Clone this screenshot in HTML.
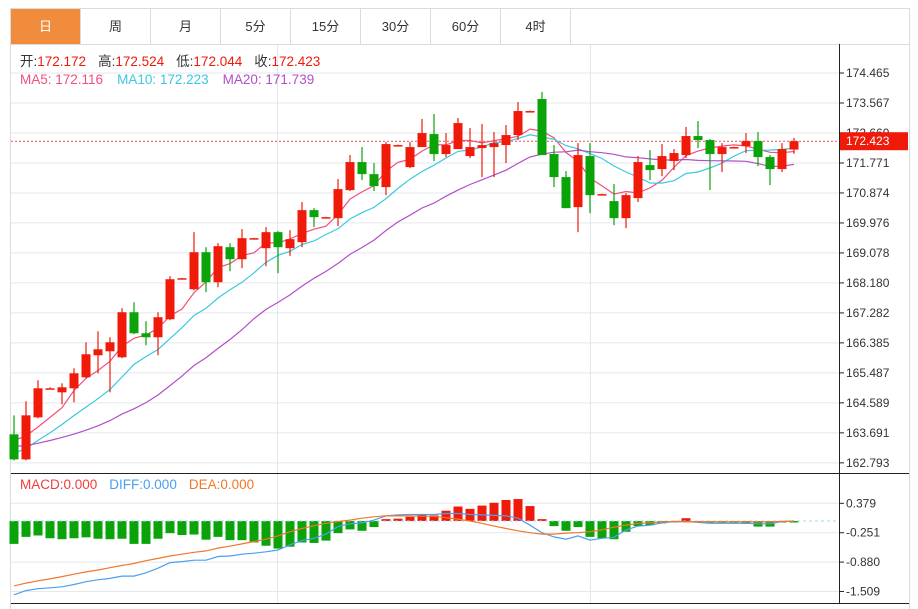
<!DOCTYPE html>
<html><head><meta charset="utf-8">
<style>
html,body{margin:0;padding:0;background:#fff;width:918px;height:604px;overflow:hidden;font-family:"Liberation Sans","Noto Sans CJK SC",sans-serif;}
#wrap{position:absolute;left:10px;top:8px;width:898px;height:600px;border:1px solid #dcdcdc;border-bottom:none;}
.tab{position:absolute;top:0;height:35px;width:69px;border-right:1px solid #dcdcdc;border-bottom:1px solid #dcdcdc;text-align:center;line-height:35px;font-size:13px;color:#333;cursor:pointer;}
.tab.on{background:#f08c3c;color:#fff;}
#tabfill{position:absolute;top:0;left:560px;right:0;height:35px;border-bottom:1px solid #dcdcdc;}
svg{position:absolute;left:0;top:0;}
</style></head><body>
<div id="wrap">
<div class="tab on" style="left:0">日</div>
<div class="tab" style="left:70px">周</div>
<div class="tab" style="left:140px">月</div>
<div class="tab" style="left:210px">5分</div>
<div class="tab" style="left:280px">15分</div>
<div class="tab" style="left:350px">30分</div>
<div class="tab" style="left:420px">60分</div>
<div class="tab" style="left:490px">4时</div>
<div id="tabfill"></div>
</div>
<svg id="chart" width="918" height="604" xmlns="http://www.w3.org/2000/svg"></svg>
<script>
const opens=[163.646,162.897,164.155,165.025,164.905,165.025,165.354,166.014,166.133,165.954,167.302,166.673,166.553,167.093,168.321,167.991,169.100,168.201,169.250,168.890,169.520,169.220,169.700,169.220,169.400,170.359,170.149,170.119,170.959,171.798,171.438,171.049,172.307,171.648,172.247,172.637,172.038,172.187,171.978,172.217,172.247,172.307,172.607,173.326,173.686,172.038,171.348,170.449,171.978,170.839,170.629,170.119,170.719,171.708,171.588,171.828,172.008,172.577,172.457,172.038,172.247,172.277,172.427,171.948,171.588,172.172];
const closes=[162.897,164.215,165.025,165.025,165.055,165.474,166.044,166.193,166.403,167.302,166.673,166.553,167.153,168.291,168.321,169.100,168.201,169.280,168.890,169.520,169.520,169.700,169.250,169.490,170.359,170.149,170.149,170.989,171.798,171.438,171.078,172.337,172.307,172.247,172.667,172.038,172.307,172.966,172.247,172.307,172.367,172.607,173.326,173.326,172.008,171.348,170.419,172.008,170.809,170.839,170.119,170.809,171.798,171.558,171.978,172.068,172.577,172.457,172.038,172.247,172.247,172.427,171.948,171.588,172.187,172.423];
const highs=[164.215,164.635,165.264,165.055,165.175,165.624,166.403,166.733,166.553,167.422,167.602,167.033,167.302,168.381,168.330,169.700,169.250,169.370,169.370,169.790,169.530,169.850,169.730,169.760,170.599,170.419,170.160,171.288,172.008,172.247,171.768,172.397,172.320,172.397,173.087,173.237,172.667,173.117,172.817,172.937,172.697,172.907,173.596,173.340,173.896,172.307,171.528,172.367,172.367,170.850,171.138,170.869,171.978,172.158,172.337,172.188,172.847,173.027,172.487,172.367,172.260,172.667,172.697,172.008,172.367,172.524];
const lows=[162.867,162.867,164.125,164.995,164.545,164.605,165.324,165.474,164.905,165.924,166.643,166.313,166.014,167.063,168.310,167.961,167.902,168.052,168.531,168.621,169.510,168.681,168.471,168.991,169.250,169.850,170.140,169.880,170.929,171.258,170.929,170.809,172.290,171.618,172.247,171.828,171.948,172.187,171.918,171.348,171.348,171.768,172.457,173.310,172.008,171.049,170.419,169.700,170.269,170.830,169.910,169.820,170.599,171.258,171.378,171.558,171.918,172.217,170.959,171.498,172.235,172.068,171.678,171.109,171.498,172.044];
const prevCloses=[163.8,163.6,163.4,163.2,163.5,163.7,163.6,163.3,163.4,163.5,162.8,162.6,162.7,162.6,162.8,163.5,163.7,163.6,163.6];
const priceTicks=[174.465,173.567,172.669,171.771,170.874,169.976,169.078,168.180,167.282,166.385,165.487,164.589,163.691,162.793];
const maLegendValues=[172.116,172.223,171.739];
const diffs=[-1.58,-1.49,-1.45,-1.43,-1.41,-1.36,-1.30,-1.26,-1.23,-1.18,-1.18,-1.11,-1.01,-0.89,-0.87,-0.84,-0.84,-0.76,-0.75,-0.71,-0.69,-0.66,-0.62,-0.51,-0.42,-0.37,-0.28,-0.12,-0.06,-0.04,0.02,0.11,0.13,0.14,0.14,0.14,0.16,0.16,0.14,0.13,0.12,0.11,0.06,-0.09,-0.25,-0.34,-0.39,-0.32,-0.41,-0.37,-0.35,-0.19,-0.11,-0.09,-0.04,-0.01,-0.01,-0.03,-0.05,-0.05,-0.05,-0.05,-0.06,-0.06,-0.01,0.00];
const deas=[-1.39,-1.33,-1.28,-1.24,-1.19,-1.14,-1.09,-1.05,-1.00,-0.95,-0.91,-0.85,-0.80,-0.75,-0.71,-0.67,-0.64,-0.58,-0.54,-0.49,-0.44,-0.39,-0.32,-0.23,-0.16,-0.10,-0.05,-0.01,0.02,0.06,0.09,0.11,0.11,0.11,0.10,0.10,0.07,0.04,0.00,-0.05,-0.11,-0.16,-0.21,-0.25,-0.28,-0.28,-0.26,-0.25,-0.23,-0.19,-0.13,-0.09,-0.05,-0.04,-0.02,-0.01,-0.02,-0.02,-0.02,-0.02,-0.02,-0.02,-0.02,-0.02,-0.01,0.00];
const macds=[-0.49,-0.34,-0.31,-0.37,-0.39,-0.37,-0.35,-0.38,-0.39,-0.38,-0.49,-0.49,-0.38,-0.26,-0.30,-0.29,-0.40,-0.34,-0.41,-0.41,-0.46,-0.53,-0.59,-0.55,-0.46,-0.47,-0.42,-0.26,-0.18,-0.21,-0.13,0.04,0.05,0.09,0.14,0.12,0.22,0.31,0.26,0.33,0.39,0.45,0.47,0.32,0.04,-0.11,-0.21,-0.13,-0.34,-0.37,-0.39,-0.23,-0.11,-0.09,-0.05,-0.02,0.06,0.00,-0.04,-0.04,-0.04,-0.06,-0.12,-0.12,-0.03,-0.01];
const macdTicks=[0.379,-0.251,-0.880,-1.509];

const NS="http://www.w3.org/2000/svg";
const svg=document.getElementById('chart');
const RED='#f01a0a',GREEN='#0aa30a';
function el(tag,attrs,parent){const e=document.createElementNS(NS,tag);for(const k in attrs)e.setAttribute(k,attrs[k]);(parent||svg).appendChild(e);return e;}
const yP=v=>73+(174.465-v)*33.40;
const yM=v=>521-v*46.7;
const xC=i=>14+12*i;
const PL=11,PR=839;

priceTicks.forEach(t=>{const l=el('line',{x1:PL,x2:PR,y1:yP(t),y2:yP(t),stroke:'#e3e8ee','stroke-width':1});

});
macdTicks.forEach(t=>{const l=el('line',{x1:PL,x2:PR,y1:yM(t),y2:yM(t),stroke:'#e3e8ee','stroke-width':1});

});
[277.5,590.5].forEach(x=>{const l=el('line',{x1:x,x2:x,y1:45,y2:603,stroke:'#e3e8ee','stroke-width':1});

});

const cur=closes[closes.length-1];
const cl=el('line',{x1:PL,x2:PR,y1:yP(cur),y2:yP(cur),stroke:'#f05050','stroke-width':1,'stroke-dasharray':'2,2'});



function ma(n){const all=prevCloses.concat(closes);const off=prevCloses.length;return closes.map((c,i)=>{let s=0;for(let k=0;k<n;k++)s+=all[off+i-k];return s/n;});}
[[5,'#f0507a','ma5-line'],[10,'#3cc8e0','ma10-line'],[20,'#b050c8','ma20-line']].forEach(([n,c,name])=>{
 const v=ma(n);const p=el('polyline',{points:v.map((y,i)=>xC(i)+','+yP(y).toFixed(1)).join(' '),fill:'none',stroke:c,'stroke-width':1.2});
 
 
});

closes.forEach((c,i)=>{
 const o=opens[i],up=c>=o,col=up?RED:GREEN;const x=xC(i);
 const g=el('g',{});
 
 
 el('line',{x1:x,x2:x,y1:yP(highs[i]),y2:yP(lows[i]),stroke:col,'stroke-width':1.2},g);
 const top=yP(Math.max(o,c)),bot=yP(Math.min(o,c));
 el('rect',{x:x-4.5,y:top,width:9,height:Math.max(1.5,bot-top),fill:col},g);
});

macds.forEach((m,i)=>{const y0=yM(0),y1=yM(m);
 const r=el('rect',{x:xC(i)-4.5,y:Math.min(y0,y1),width:9,height:Math.max(1.5,Math.abs(y1-y0)),fill:m>=0?RED:GREEN});
 
 
});
const zl=el('line',{x1:PL,x2:PR,y1:yM(0),y2:yM(0),stroke:'#a8d4ec','stroke-width':1,'stroke-dasharray':'3,3'});


const dl=el('polyline',{points:diffs.map((v,i)=>xC(i)+','+yM(v).toFixed(1)).join(' '),fill:'none',stroke:'#4aa0f0','stroke-width':1.2});


const el2=el('polyline',{points:deas.map((v,i)=>xC(i)+','+yM(v).toFixed(1)).join(' '),fill:'none',stroke:'#f07828','stroke-width':1.2});



const ax=el('line',{x1:839.5,x2:839.5,y1:44,y2:604,stroke:'#222','stroke-width':1});


const sep=el('line',{x1:11,x2:909,y1:473.5,y2:473.5,stroke:'#222','stroke-width':1});


const bl=el('line',{x1:11,x2:909,y1:603.5,y2:603.5,stroke:'#222','stroke-width':1});



priceTicks.forEach(t=>{const y=yP(t);el('line',{x1:839,x2:844,y1:y,y2:y,stroke:'#222'});
 const tx=el('text',{x:846,y:y+4,'font-size':12,fill:'#333'});tx.textContent=t.toFixed(3);
 
 });
macdTicks.forEach(t=>{const y=yM(t);el('line',{x1:839,x2:844,y1:y,y2:y,stroke:'#222'});
 const tx=el('text',{x:846,y:y+4,'font-size':12,fill:'#333'});tx.textContent=t.toFixed(3);
 
 });

const tag=el('rect',{x:840,y:yP(cur)-9,width:68,height:18,fill:RED});


const tt=el('text',{x:846,y:yP(cur)+4,'font-size':12,fill:'#fff'});tt.textContent=cur.toFixed(3);



function legend(y,items,name){const t=el('text',{x:20,y:y,'font-size':13.5});
 
 
 items.forEach(([s,c,dx])=>{const sp=el('tspan',{fill:c},t);if(dx)sp.setAttribute('dx',dx);sp.textContent=s;});}
const n=closes.length-1;
legend(66,[['开:','#333'],[opens[n].toFixed(3),RED],['高:','#333',12],[highs[n].toFixed(3),RED],['低:','#333',12],[lows[n].toFixed(3),RED],['收:','#333',12],[closes[n].toFixed(3),RED]],'ohlc-legend');
legend(84,[['MA5:  '+maLegendValues[0].toFixed(3),'#f0507a'],['MA10:  '+maLegendValues[1].toFixed(3),'#3cc8e0',14],['MA20:  '+maLegendValues[2].toFixed(3),'#b050c8',14]],'ma-legend');
legend(489,[['MACD:0.000','#f03c3c'],['DIFF:0.000','#4aa0f0',12],['DEA:0.000','#f07828',12]],'macd-legend');
</script>
</body></html>
